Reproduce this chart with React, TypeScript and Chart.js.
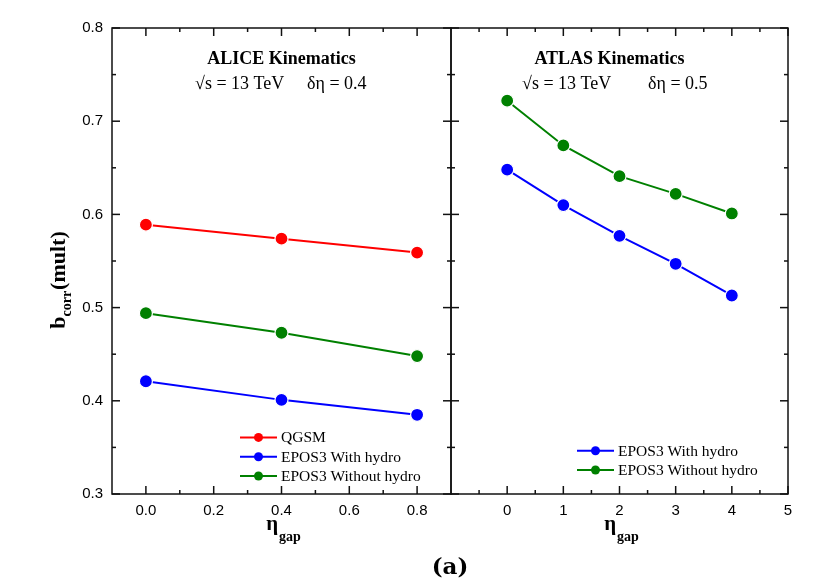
import React, { useEffect, useRef } from "react";
import { Chart, registerables } from "chart.js";

Chart.register(...registerables);

// ---------- data ----------
const ALICE_ETA_GAP = [0.0, 0.4, 0.8];
const ALICE_QGSM = [0.589, 0.574, 0.559];
const ALICE_EPOS_HYDRO = [0.421, 0.401, 0.385];
const ALICE_EPOS_NOHYDRO = [0.494, 0.473, 0.448];

const ATLAS_ETA_GAP = [0, 1, 2, 3, 4];
const ATLAS_EPOS_HYDRO = [0.648, 0.61, 0.577, 0.547, 0.513];
const ATLAS_EPOS_NOHYDRO = [0.722, 0.674, 0.641, 0.622, 0.601];

const Y_TICKS = [0.3, 0.4, 0.5, 0.6, 0.7, 0.8];
const Y_MINOR = [0.35, 0.45, 0.55, 0.65, 0.75];
const ALICE_X_TICKS = [0.0, 0.2, 0.4, 0.6, 0.8];
const ALICE_X_MINOR = [0.1, 0.3, 0.5, 0.7];
const ATLAS_X_TICKS = [0, 1, 2, 3, 4, 5];
const ATLAS_X_MINOR = [-0.5, 0.5, 1.5, 2.5, 3.5, 4.5];

const SERIF = '"Liberation Serif", "Times New Roman", serif';
const SANS = '"Liberation Sans", Arial, sans-serif';
const RED = "#ff0000";
const BLUE = "#0000ff";
const GREEN = "#008000";

const W = 831;
const H = 587;

type Series = { label: string; color: string; x: number[]; y: number[] };

type PanelSpec = {
  id: string;
  area: { left: number; right: number; top: number; bottom: number };
  xMin: number;
  xMax: number;
  xTicks: number[];
  xMinor: number[];
  xFmt: (v: number) => string;
  showYLabels: boolean;
  series: Series[];
  title: string;
  titleDx: number;
  sub1: string;
  sub1Dx: number;
  sub2: string;
  sub2Dx: number;
  legendDx: number;
  legendDy: number;
  drawYTitle: boolean;
  drawTag: boolean;
};

function decoPlugin(p: PanelSpec) {
  return {
    id: "deco_" + p.id,
    afterDraw(chart: any) {
      const ctx: CanvasRenderingContext2D = chart.ctx;
      const ca = chart.chartArea;
      const xs = chart.scales.x;
      const ys = chart.scales.y;
      ctx.save();
      ctx.strokeStyle = "#111";
      ctx.lineWidth = 1.5;
      ctx.strokeRect(ca.left, ca.top, ca.right - ca.left, ca.bottom - ca.top);
      const seg = (x1: number, y1: number, x2: number, y2: number) => {
        ctx.beginPath();
        ctx.moveTo(x1, y1);
        ctx.lineTo(x2, y2);
        ctx.stroke();
      };
      const MAJ = 8;
      const MIN = 4;
      p.xTicks.forEach((v) => {
        const px = xs.getPixelForValue(v);
        seg(px, ca.bottom, px, ca.bottom - MAJ);
        seg(px, ca.top, px, ca.top + MAJ);
      });
      p.xMinor.forEach((v) => {
        const px = xs.getPixelForValue(v);
        seg(px, ca.bottom, px, ca.bottom - MIN);
        seg(px, ca.top, px, ca.top + MIN);
      });
      Y_TICKS.forEach((v) => {
        const py = ys.getPixelForValue(v);
        seg(ca.left, py, ca.left + MAJ, py);
        seg(ca.right, py, ca.right - MAJ, py);
      });
      Y_MINOR.forEach((v) => {
        const py = ys.getPixelForValue(v);
        seg(ca.left, py, ca.left + MIN, py);
        seg(ca.right, py, ca.right - MIN, py);
      });

      const cx = (ca.left + ca.right) / 2;
      ctx.fillStyle = "#000";
      ctx.textBaseline = "alphabetic";

      // annotation
      ctx.font = `bold 18px ${SERIF}`;
      ctx.textAlign = "center";
      ctx.fillText(p.title, cx + p.titleDx, ca.top + 36);
      ctx.font = `18px ${SERIF}`;
      ctx.textAlign = "left";
      ctx.fillText(p.sub1, ca.left + p.sub1Dx, ca.top + 61);
      ctx.fillText(p.sub2, ca.left + p.sub2Dx, ca.top + 61);

      // legend
      ctx.textBaseline = "middle";
      ctx.font = `15.5px ${SERIF}`;
      const n = p.series.length;
      p.series.forEach((s, i) => {
        const y = ca.bottom - p.legendDy - (n - 1 - i) * 19.3;
        const x0 = ca.left + p.legendDx;
        ctx.strokeStyle = s.color;
        ctx.lineWidth = 2;
        seg(x0, y, x0 + 37, y);
        ctx.fillStyle = s.color;
        ctx.beginPath();
        ctx.arc(x0 + 18.5, y, 4.5, 0, Math.PI * 2);
        ctx.fill();
        ctx.fillStyle = "#000";
        ctx.fillText(s.label, x0 + 41, y + 1);
      });

      // x title: eta_gap
      ctx.textBaseline = "alphabetic";
      ctx.font = `bold 21px ${SERIF}`;
      const wEta = ctx.measureText("η").width;
      ctx.font = `bold 14px ${SERIF}`;
      const wGap = ctx.measureText("gap").width;
      const xStart = cx + 2 - (wEta + 1 + wGap) / 2;
      ctx.font = `bold 21px ${SERIF}`;
      ctx.fillText("η", xStart, 530);
      ctx.font = `bold 14px ${SERIF}`;
      ctx.fillText("gap", xStart + wEta + 1, 541);

      // y title
      if (p.drawYTitle) {
        ctx.save();
        ctx.font = `bold 22px ${SERIF}`;
        const wb = ctx.measureText("b").width;
        const wm = ctx.measureText("(mult)").width;
        ctx.font = `bold 14px ${SERIF}`;
        const wc = ctx.measureText("corr").width;
        const total = wb + wc + wm + 1;
        ctx.translate(65, 280);
        ctx.rotate(-Math.PI / 2);
        let x = -total / 2;
        ctx.font = `bold 22px ${SERIF}`;
        ctx.fillText("b", x, 0);
        x += wb;
        ctx.font = `bold 14px ${SERIF}`;
        ctx.fillText("corr", x, 6);
        x += wc + 1;
        ctx.font = `bold 22px ${SERIF}`;
        ctx.fillText("(mult)", x, 0);
        ctx.restore();
      }

      if (p.drawTag) {
        ctx.font = `bold 23px "DejaVu Serif", ${SERIF}`;
        ctx.textAlign = "center";
        ctx.fillText("(a)", 450, 574);
      }
      ctx.restore();
    },
  };
}

function makeConfig(p: PanelSpec): any {
  const yWidth = p.showYLabels ? p.area.left : 0;
  return {
    type: "line",
    data: {
      datasets: p.series.map((s) => ({
        label: s.label,
        data: s.x.map((x, i) => ({ x, y: s.y[i] })),
        borderColor: s.color,
        backgroundColor: s.color,
        borderWidth: 2,
        pointRadius: 6.5,
        pointBorderColor: "#ffffff",
        pointBorderWidth: 1.2,
        pointBackgroundColor: s.color,
        tension: 0,
        fill: false,
      })),
    },
    options: {
      responsive: false,
      animation: false,
      devicePixelRatio: 1,
      events: [],
      layout: {
        padding: {
          left: p.showYLabels ? 0 : p.area.left,
          right: W - p.area.right,
          top: p.area.top,
          bottom: 0,
        },
      },
      plugins: {
        legend: { display: false },
        tooltip: { enabled: false },
      },
      scales: {
        x: {
          type: "linear",
          min: p.xMin,
          max: p.xMax,
          grid: { display: false, drawTicks: false },
          border: { display: false },
          afterBuildTicks: (scale: any) => {
            scale.ticks = p.xTicks.map((v) => ({ value: v }));
          },
          afterFit: (scale: any) => {
            scale.height = H - p.area.bottom;
          },
          ticks: {
            padding: 8,
            maxRotation: 0,
            autoSkip: false,
            color: "#000",
            font: { family: SANS, size: 15 },
            callback: (v: any) => p.xFmt(Number(v)),
          },
        },
        y: {
          type: "linear",
          min: 0.3,
          max: 0.8,
          grid: { display: false, drawTicks: false },
          border: { display: false },
          afterBuildTicks: (scale: any) => {
            scale.ticks = Y_TICKS.map((v) => ({ value: v }));
          },
          afterFit: (scale: any) => {
            scale.width = yWidth;
          },
          ticks: {
            display: p.showYLabels,
            padding: 9,
            color: "#000",
            font: { family: SANS, size: 15 },
            callback: (v: any) => Number(v).toFixed(1),
          },
        },
      },
    },
    plugins: [decoPlugin(p)],
  };
}

const LEFT: PanelSpec = {
  id: "alice",
  area: { left: 112, right: 451, top: 28, bottom: 494 },
  xMin: -0.1,
  xMax: 0.9,
  xTicks: ALICE_X_TICKS,
  xMinor: ALICE_X_MINOR,
  xFmt: (v) => v.toFixed(1),
  showYLabels: true,
  series: [
    { label: "QGSM", color: RED, x: ALICE_ETA_GAP, y: ALICE_QGSM },
    { label: "EPOS3 With hydro", color: BLUE, x: ALICE_ETA_GAP, y: ALICE_EPOS_HYDRO },
    { label: "EPOS3 Without hydro", color: GREEN, x: ALICE_ETA_GAP, y: ALICE_EPOS_NOHYDRO },
  ],
  title: "ALICE Kinematics",
  titleDx: 0,
  sub1: "√s = 13 TeV",
  sub1Dx: 83,
  sub2: "δη = 0.4",
  sub2Dx: 195,
  legendDx: 128,
  legendDy: 18,
  drawYTitle: true,
  drawTag: true,
};

const RIGHT: PanelSpec = {
  id: "atlas",
  area: { left: 451, right: 788, top: 28, bottom: 494 },
  xMin: -1,
  xMax: 5,
  xTicks: ATLAS_X_TICKS,
  xMinor: ATLAS_X_MINOR,
  xFmt: (v) => String(v),
  showYLabels: false,
  series: [
    { label: "EPOS3 With hydro", color: BLUE, x: ATLAS_ETA_GAP, y: ATLAS_EPOS_HYDRO },
    { label: "EPOS3 Without hydro", color: GREEN, x: ATLAS_ETA_GAP, y: ATLAS_EPOS_NOHYDRO },
  ],
  title: "ATLAS Kinematics",
  titleDx: -10,
  sub1: "√s = 13 TeV",
  sub1Dx: 71,
  sub2: "δη = 0.5",
  sub2Dx: 197,
  legendDx: 126,
  legendDy: 24,
  drawYTitle: false,
  drawTag: false,
};

export default function App() {
  const ref1 = useRef<HTMLCanvasElement>(null);
  const ref2 = useRef<HTMLCanvasElement>(null);

  useEffect(() => {
    const c1 = new Chart(ref1.current as HTMLCanvasElement, makeConfig(LEFT));
    const c2 = new Chart(ref2.current as HTMLCanvasElement, makeConfig(RIGHT));
    return () => {
      c1.destroy();
      c2.destroy();
    };
  }, []);

  const cs: React.CSSProperties = {
    position: "absolute",
    left: 0,
    top: 0,
    width: W,
    height: H,
    display: "block",
  };

  return (
    <div
      style={{
        position: "fixed",
        left: 0,
        top: 0,
        width: W,
        height: H,
        background: "#ffffff",
        overflow: "hidden",
      }}
    >
      <canvas ref={ref1} width={W} height={H} style={cs} />
      <canvas ref={ref2} width={W} height={H} style={cs} />
    </div>
  );
}
